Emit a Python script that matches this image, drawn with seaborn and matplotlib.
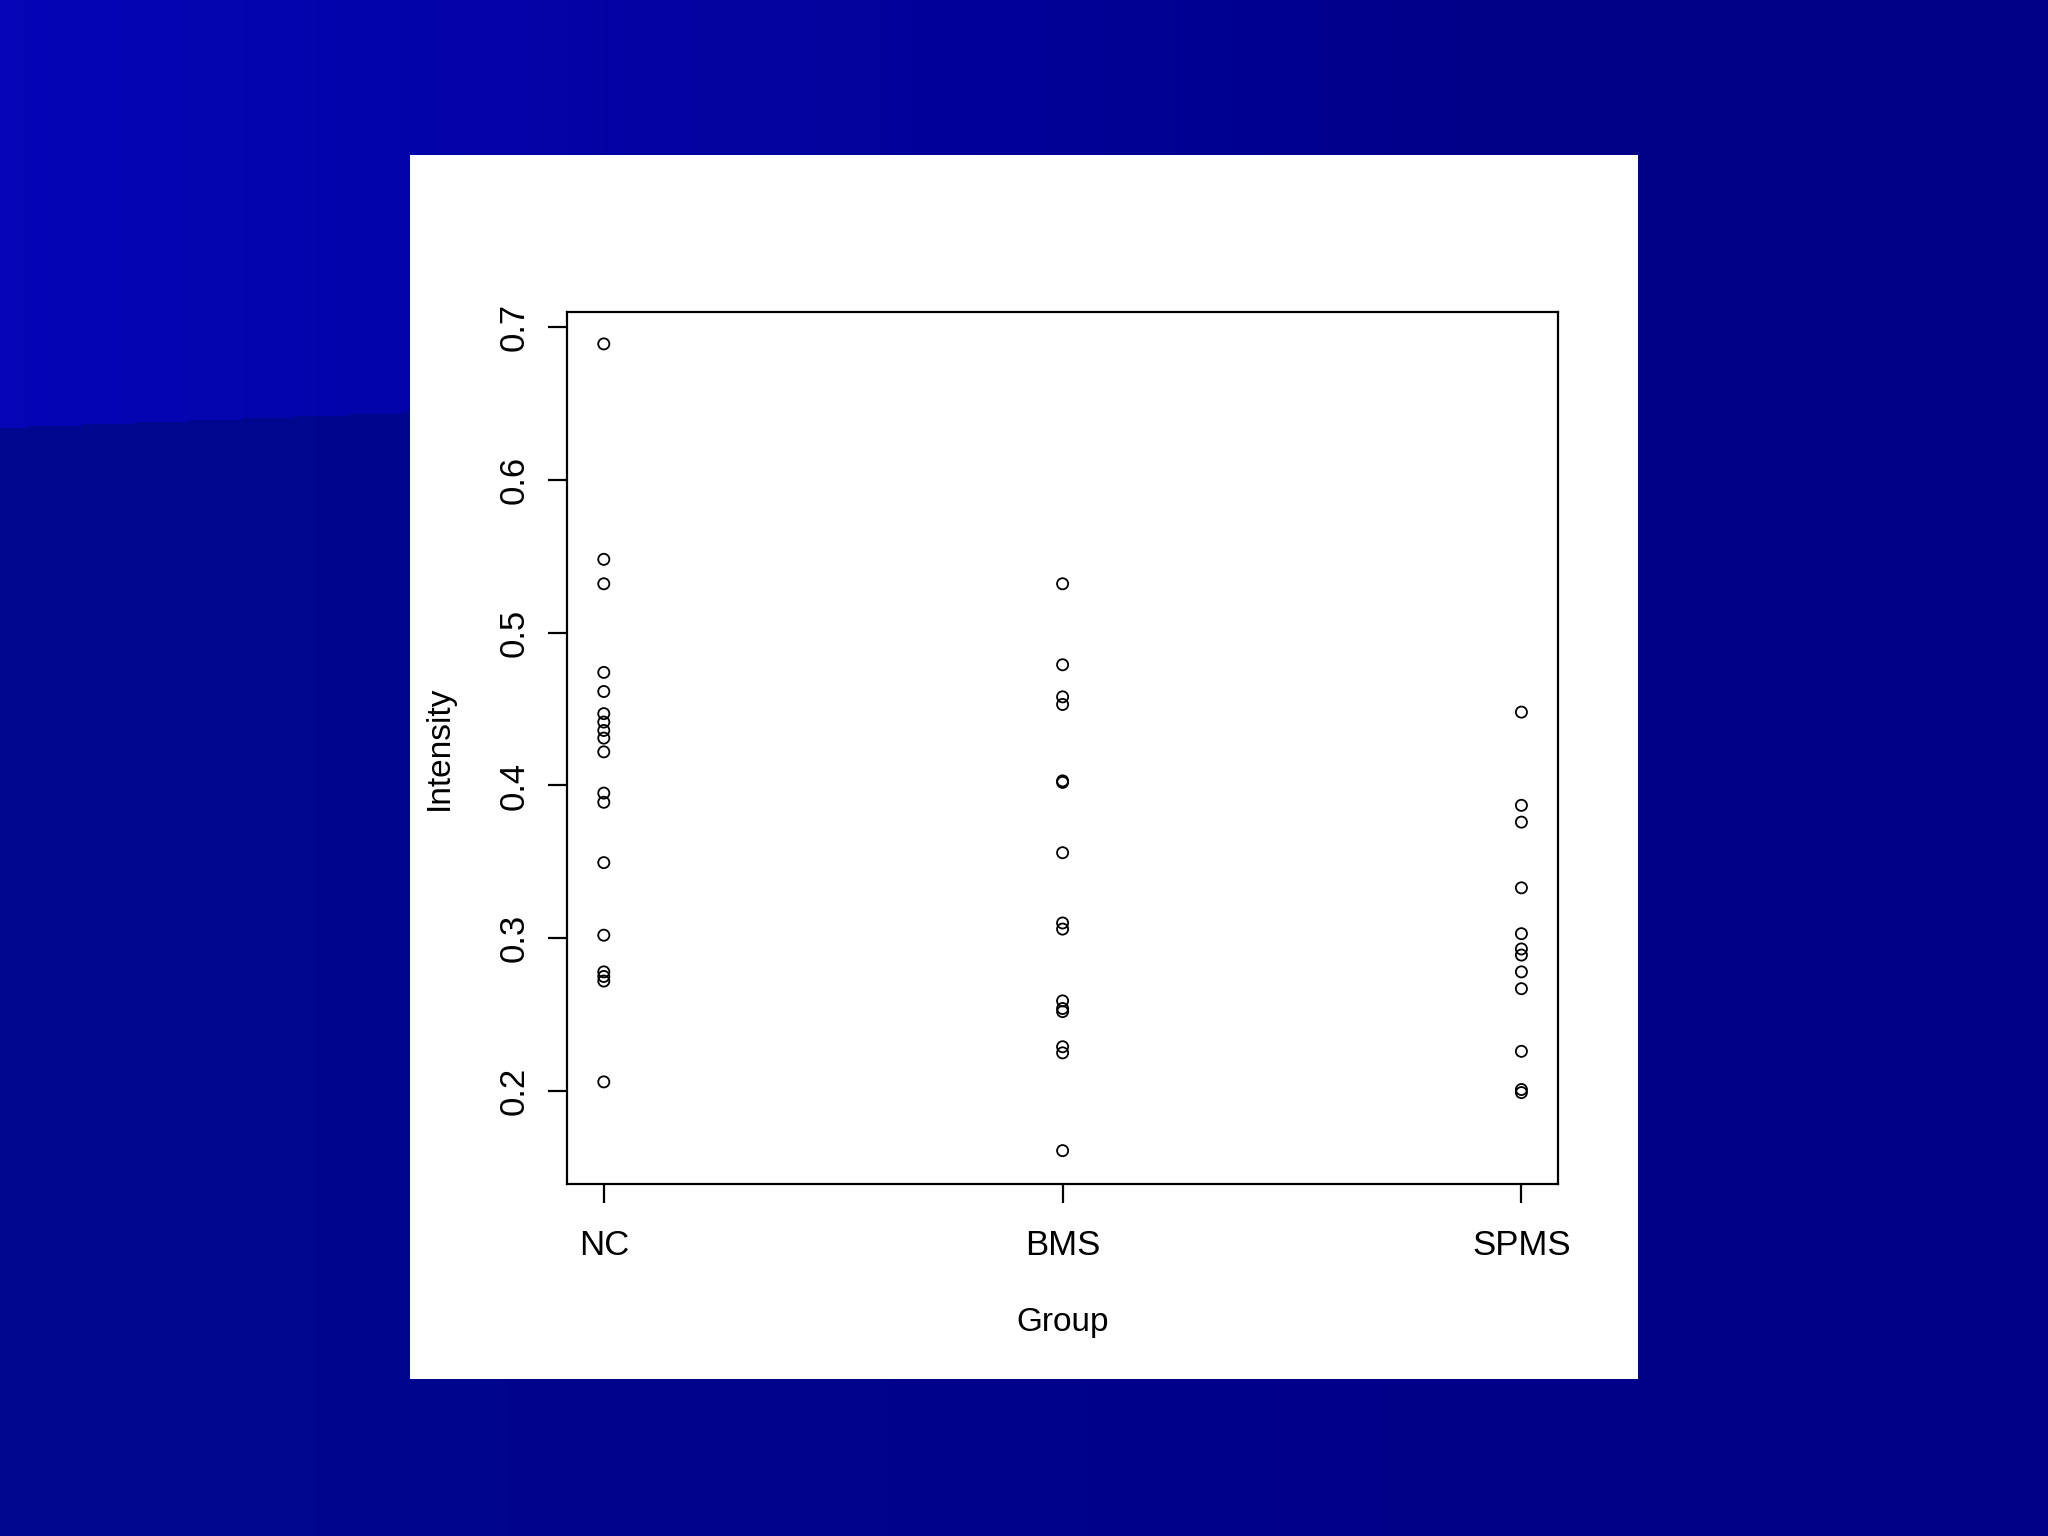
import numpy as np
import pandas as pd
import matplotlib
matplotlib.use('Agg')
import matplotlib.pyplot as plt
import seaborn as sns

# values
groups = ['NC', 'BMS', 'SPMS']
nc = [0.689, 0.548, 0.532, 0.474, 0.4615, 0.447, 0.4415, 0.436, 0.431, 0.422,
      0.395, 0.389, 0.3495, 0.302, 0.278, 0.275, 0.272, 0.206]
bms = [0.532, 0.479, 0.458, 0.453, 0.403, 0.402, 0.356, 0.310, 0.306, 0.259,
       0.254, 0.252, 0.229, 0.225, 0.161]
spms = [0.448, 0.387, 0.376, 0.333, 0.303, 0.293, 0.289, 0.278, 0.267, 0.226,
        0.201, 0.199]
yticks = [0.2, 0.3, 0.4, 0.5, 0.6, 0.7]

df = pd.DataFrame({
    'Group': ['NC'] * len(nc) + ['BMS'] * len(bms) + ['SPMS'] * len(spms),
    'Intensity': nc + bms + spms,
})

sns.set_theme(style='white')
plt.rcParams['font.family'] = ['Liberation Sans', 'DejaVu Sans']

fig = plt.figure(figsize=(20.48, 15.36), dpi=100)

# slide background (blue gradient, lighter top-left)
h, w = 768, 1024
yy, xx = np.mgrid[0:h, 0:w] / np.array([h, w])[:, None, None]
t = np.clip(xx * 1.4, 0, 1)
top = np.stack([0.02 * (1 - t), 0.02 * (1 - t), 0.72 - 0.18 * t], axis=-1)
low = np.stack([0.0 * xx, 0.03 * (1 - t), 0.56 - 0.02 * t], axis=-1)
edge = 0.278 - 0.05 * xx
grad = np.where((yy < edge)[..., None], top, low)
bg = fig.add_axes([0, 0, 1, 1])
bg.imshow(grad, aspect='auto', extent=[0, 1, 0, 1], origin='upper')
bg.axis('off')

# white plot panel
panel = fig.add_axes([0.2002, 0.1022, 0.5996, 0.797])
panel.set_facecolor('white')
panel.set_xticks([])
panel.set_yticks([])
for s in panel.spines.values():
    s.set_visible(False)

ax = fig.add_axes([0.2769, 0.229, 0.4839, 0.568])
ax.set_facecolor('white')
sns.scatterplot(data=df, x='Group', y='Intensity', ax=ax, marker='o', s=64,
                color='black', legend=False)
for coll in ax.collections:
    coll.set_facecolor('none')
    coll.set_edgecolor('black')
    coll.set_linewidth(1.3)

ax.set_xlim(-0.08, 2.08)
ax.set_ylim(0.139, 0.710)
ax.set_xticks(range(len(groups)))
ax.set_xticklabels(groups)
ax.set_yticks(yticks)
ax.set_yticklabels([f'{v:.1f}' for v in yticks], rotation=90, va='center')

for s in ax.spines.values():
    s.set_visible(True)
    s.set_color('black')
    s.set_linewidth(1.6)
ax.tick_params(axis='both', which='major', direction='out', length=14, width=1.6,
               color='black', labelsize=25, labelcolor='black', left=True, bottom=True)
ax.tick_params(axis='y', pad=12)
ax.tick_params(axis='x', pad=18)

ax.set_xlabel('Group', fontsize=24, color='black')
ax.set_ylabel('Intensity', fontsize=24, color='black')
ax.xaxis.set_label_coords(0.5, -0.159)
ax.xaxis.label.set_va('center')
ax.yaxis.set_label_coords(-0.129, 0.5)
ax.yaxis.label.set_va('center')

fig.savefig('out.png', dpi=100)
